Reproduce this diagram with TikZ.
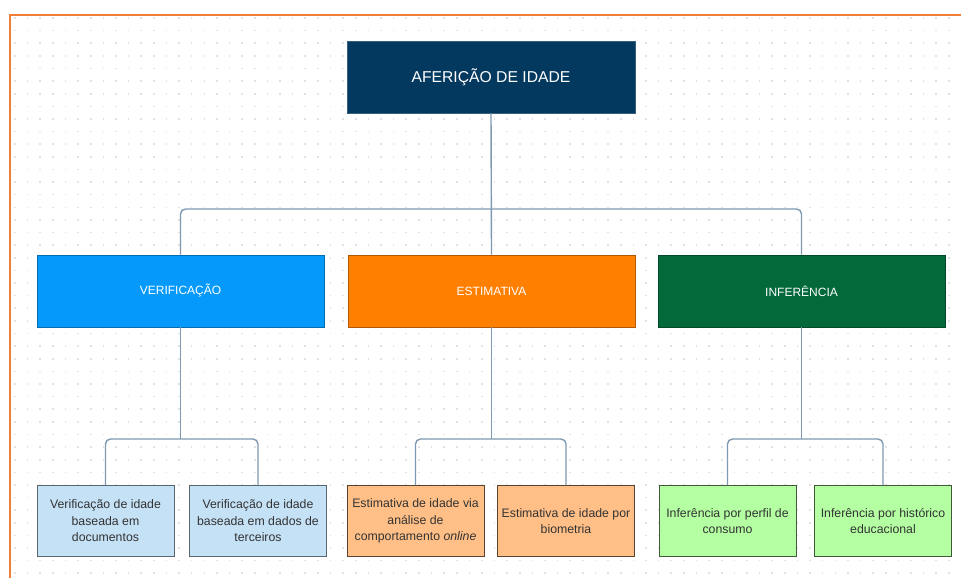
\documentclass[tikz,border=0pt]{standalone}
\usepackage{fontspec}
\setmainfont{Liberation Sans}
\definecolor{rootc}{HTML}{03395F}
\definecolor{verc}{HTML}{0499FB}
\definecolor{estc}{HTML}{FF7F00}
\definecolor{infc}{HTML}{03683A}
\definecolor{verl}{HTML}{C5E1F6}
\definecolor{estl}{HTML}{FFBF86}
\definecolor{infl}{HTML}{B3FFA2}
\definecolor{connc}{HTML}{7E99B1}
\definecolor{framec}{HTML}{F07F3C}
\definecolor{dotc}{HTML}{E2E2E2}
\definecolor{txtc}{HTML}{333333}
\begin{document}
\begin{tikzpicture}[x=1pt,y=-1pt,
  rootbox/.style={draw=rootc!80!white, line width=0.6pt, fill=rootc, text=white, minimum width=288pt, minimum height=72pt, inner sep=0pt, font=\fontsize{15.7}{18}\selectfont},
  catbox/.style={line width=0.8pt, text=white, minimum width=287pt, minimum height=72pt, inner sep=0pt, font=\fontsize{12}{14}\selectfont},
  leafbox/.style={line width=0.8pt, text=txtc, minimum width=137pt, minimum height=71pt, inner sep=0pt, align=center, font=\fontsize{12.3}{16.5}\selectfont},
  conn/.style={draw=connc, line width=1.4pt, rounded corners=5pt}
]
\useasboundingbox (0,0) rectangle (961,578);
\fill[white] (0,0) rectangle (961,578);
% dot grid
\foreach \i in {0,...,74}{
  \foreach \j in {0,...,44}{
    \fill[dotc] ({15+12.62*\i-0.8},{18+12.62*\j-0.8}) rectangle ++(1.6,1.6);
  }
}
% frame
\draw[framec, line width=1.8pt] (10,578) -- (10,15) -- (961,15);

% nodes
\node[rootbox] (root) at (491,77) {AFERIÇÃO DE IDADE};
\node[catbox, fill=verc, draw=verc!70!black] (ver) at (180.5,291) {VERIFICAÇÃO};
\node[catbox, fill=estc, draw=estc!70!black] (est) at (491.5,291) {ESTIMATIVA};
\node[catbox, fill=infc, draw=infc!70!black] (inf) at (801.5,291) {INFERÊNCIA};

\node[leafbox, fill=verl, draw=verl!45!black] (v1) at (105.5,521) {Verificação de idade\\baseada em\\documentos};
\node[leafbox, fill=verl, draw=verl!45!black] (v2) at (258,521) {Verificação de idade\\baseada em dados de\\terceiros};
\node[leafbox, fill=estl, draw=estl!35!black] (e1) at (415.5,521) {Estimativa de idade via\\análise de\\comportamento \textit{online}};
\node[leafbox, fill=estl, draw=estl!35!black] (e2) at (566,521) {Estimativa de idade por\\biometria};
\node[leafbox, fill=infl, draw=infl!35!black] (i1) at (727.5,521) {Inferência por perfil de\\consumo};
\node[leafbox, fill=infl, draw=infl!35!black] (i2) at (883,521) {Inferência por histórico\\educacional};

% connectors
\coordinate (b0) at (491,209);
\coordinate (bv) at (180.5,439);
\coordinate (be) at (491.5,439);
\coordinate (bi) at (801.5,439);
\draw[conn] (root.south) -- (est.north);
\draw[conn] (ver.north) |- (b0) -| (inf.north);
\draw[conn] (ver.south) -- (bv);
\draw[conn] (v1.north) |- (bv) -| (v2.north);
\draw[conn] (est.south) -- (be);
\draw[conn] (e1.north) |- (be) -| (e2.north);
\draw[conn] (inf.south) -- (bi);
\draw[conn] (i1.north) |- (bi) -| (i2.north);
\end{tikzpicture}
\end{document}
